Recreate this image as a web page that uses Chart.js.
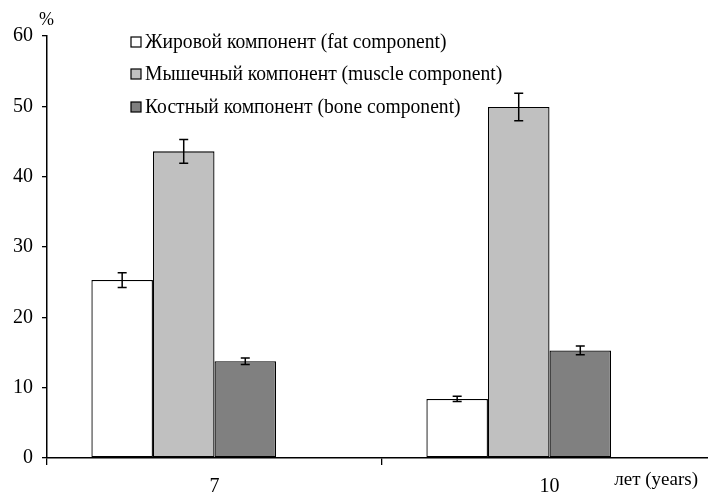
<!DOCTYPE html>
<html>
<head>
<meta charset="utf-8">
<script src="https://cdn.jsdelivr.net/npm/chart.js@4.4.1/dist/chart.umd.min.js"></script>
<style>
  html, body { margin: 0; padding: 0; background: #fff; overflow: hidden; }
  #wrap { width: 717px; height: 494px; position: relative; }
</style>
</head>
<body>
<div id="wrap"><canvas id="bodyChart"></canvas></div>
<script>
var categories = ["7", "10"];
var seriesLabels = [
    "Жировой компонент (fat component)",
    "Мышечный компонент (muscle component)",
    "Костный компонент (bone component)"
];
var fatValues = [25.3, 8.4];
var fatErrors = [1.05, 0.38];
var muscleValues = [43.6, 49.9];
var muscleErrors = [1.7, 1.95];
var boneValues = [13.75, 15.3];
var boneErrors = [0.47, 0.62];
var yTicks = [0, 10, 20, 30, 40, 50, 60];

var serif = "'Liberation Serif', 'Times New Roman', serif";

// error bars drawn from the bar elements and the y scale
var errorBars = {
    id: "errorBars",
    afterDatasetsDraw: function (chart) {
        var ctx = chart.ctx;
        var yScale = chart.scales.y;
        ctx.save();
        ctx.strokeStyle = "#000";
        ctx.lineWidth = 1.5;
        chart.data.datasets.forEach(function (ds, i) {
            if (!ds.errors) return;
            var meta = chart.getDatasetMeta(i);
            meta.data.forEach(function (bar, j) {
                var v = ds.data[j];
                var e = ds.errors[j];
                var hi = yScale.getPixelForValue(v + e);
                var lo = yScale.getPixelForValue(v - e);
                ctx.beginPath();
                ctx.moveTo(bar.x, hi);
                ctx.lineTo(bar.x, lo);
                ctx.moveTo(bar.x - 4.5, hi);
                ctx.lineTo(bar.x + 4.5, hi);
                ctx.moveTo(bar.x - 4.5, lo);
                ctx.lineTo(bar.x + 4.5, lo);
                ctx.stroke();
            });
        });
        ctx.restore();
    }
};

// legend box, unit and axis title
var extras = {
    id: "extras",
    afterDraw: function (chart) {
        var ctx = chart.ctx;
        ctx.save();
        ctx.textBaseline = "middle";
        ctx.textAlign = "left";
        var rows = [42, 74, 107];
        chart.data.datasets.forEach(function (ds, i) {
            if (!ds.errors) return;
            ctx.fillStyle = ds.backgroundColor;
            ctx.fillRect(131, rows[i] - 5, 10, 10);
            ctx.strokeStyle = "#000";
            ctx.lineWidth = 1.2;
            ctx.strokeRect(131, rows[i] - 5, 10, 10);
            ctx.fillStyle = "#000";
            ctx.save();
            ctx.font = "20px " + serif;
            ctx.translate(145, rows[i] + 1);
            ctx.scale(0.98, 1);
            ctx.fillText(ds.label, 0, 0);
            ctx.restore();
        });
        ctx.fillStyle = "#000";
        ctx.font = "18px " + serif;
        ctx.fillText("%", 39, 20);
        ctx.font = "19px " + serif;
        ctx.textAlign = "right";
        ctx.fillText("лет (years)", 698, 480);
        ctx.restore();
    }
};

var canvas = document.getElementById("bodyChart");
var chart = new Chart(canvas, {
    type: "bar",
    data: {
        labels: categories,
        datasets: [{
            label: seriesLabels[0],
            data: fatValues,
            errors: fatErrors,
            backgroundColor: "#ffffff",
            borderColor: "#000",
            borderWidth: 1.3
        }, {
            label: seriesLabels[1],
            data: muscleValues,
            errors: muscleErrors,
            backgroundColor: "#c0c0c0",
            borderColor: "#000",
            borderWidth: 1.3
        }, {
            label: seriesLabels[2],
            data: boneValues,
            errors: boneErrors,
            backgroundColor: "#808080",
            borderColor: "#000",
            borderWidth: 1.3
        }, {
            label: "",
            data: [null, null],
            backgroundColor: "rgba(0,0,0,0)",
            borderWidth: 0
        }]
    },
    options: {
        responsive: true,
        maintainAspectRatio: false,
        animation: false,
        layout: {
            padding: { top: 36, right: 0, left: 0, bottom: 0 }
        },
        plugins: {
            legend: { display: false },
            tooltip: { enabled: false }
        },
        datasets: {
            bar: {
                categoryPercentage: 0.735,
                barPercentage: 1.0,
                borderSkipped: false
            }
        },
        scales: {
            x: {
                grid: {
                    display: true,
                    offset: true,
                    drawOnChartArea: false,
                    drawTicks: true,
                    tickLength: 7,
                    color: "#000",
                    lineWidth: 1.3
                },
                border: { display: true, color: "#000", width: 1.5 },
                ticks: {
                    color: "#000",
                    font: { family: serif, size: 20 },
                    padding: 10,
                    maxRotation: 0
                },
                afterFit: function (scale) { scale.height = 36; }
            },
            y: {
                min: 0,
                max: 60,
                afterBuildTicks: function (scale) {
                    scale.ticks = yTicks.map(function (v) { return { value: v }; });
                },
                grid: {
                    display: true,
                    drawOnChartArea: false,
                    drawTicks: true,
                    tickLength: 5,
                    color: "#000",
                    lineWidth: 1.3
                },
                border: { display: true, color: "#000", width: 1.5 },
                ticks: {
                    color: "#000",
                    font: { family: serif, size: 20 },
                    padding: 9
                },
                afterFit: function (scale) { scale.width = 47; }
            }
        }
    },
    plugins: [errorBars, extras]
});
</script>
</body>
</html>
